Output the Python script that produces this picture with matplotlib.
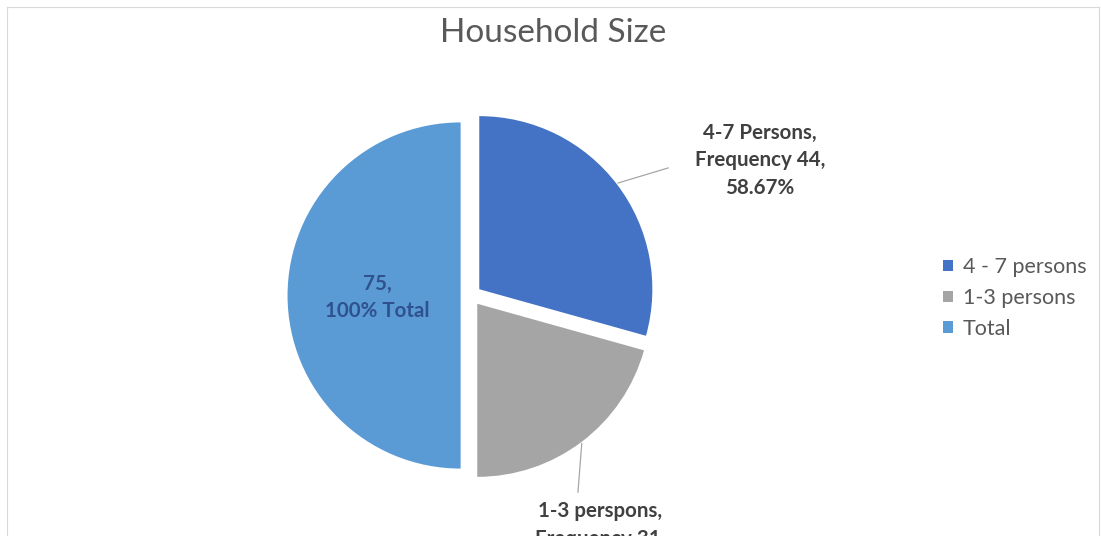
import matplotlib.pyplot as plt
from matplotlib.lines import Line2D
from matplotlib.patches import Patch

# household size breakdown
groups = ["4 - 7 persons", "1-3 persons", "Total"]
label_names = ["4-7 Persons", "1-3 perspons"]
freq = [44, 31, 75]
colors = ["#4472C4", "#A5A5A5", "#5B9BD5"]

plt.rcParams['font.family'] = ['Lato', 'DejaVu Sans']

fig = plt.figure(figsize=(11.01, 5.36), dpi=100)

# light frame round the chart area
W, H = 1101, 536
fig.add_artist(Line2D([7 / W, 1099 / W], [1 - 7 / H, 1 - 7 / H], color="#D9D9D9", lw=0.8))
fig.add_artist(Line2D([7 / W, 7 / W], [0, 1 - 7 / H], color="#D9D9D9", lw=0.8))
fig.add_artist(Line2D([1099 / W, 1099 / W], [0, 1 - 7 / H], color="#D9D9D9", lw=0.8))

ax = fig.add_axes([(471 - 225) / W, (536 - 295.5 - 225) / H, 450 / W, 450 / H])
ax.pie(freq, colors=colors, startangle=90, counterclock=False,
       explode=[0.06, 0.06, 0.06], radius=1)
ax.set_xlim(-1.3, 1.3)
ax.set_ylim(-1.3, 1.3)
ax.set_aspect('equal')
ax.axis('off')

total = freq[2]
lbl = dict(ha='center', fontsize=14.8, fontweight='bold', color='#404040',
           linespacing=1.45)

# 4-7 persons label with leader line
ax.plot([0.850, 1.139], [0.650, 0.737], color='#A6A6A6', lw=0.9)
ax.text(1.67, 0.78, "%s,\nFrequency %d,\n%.2f%%" % (label_names[0], freq[0], freq[0] / total * 100),
        va='center', **lbl)

# 1-3 persons label (runs off the bottom)
ax.plot([0.640, 0.618], [-0.855, -1.136], color='#A6A6A6', lw=0.9)
ax.text(0.745, -1.19, "%s,\nFrequency %d,\n%.2f%%" % (label_names[1], freq[1], freq[1] / total * 100),
        va='top', **lbl)

# total label inside its slice
ax.text(-0.543, -0.01, "%d,\n%d%% Total" % (freq[2], freq[2] / total * 100),
        ha='center', va='center', fontsize=14.8, fontweight='bold',
        color='#2F528F', linespacing=1.45)

fig.text(0.502, 1 - 33 / H, "Household Size", ha='center', va='center',
         fontsize=24, color='#595959')

handles = [Patch(facecolor=c, edgecolor='none') for c in colors]
fig.legend(handles, groups, loc='center left', bbox_to_anchor=(924 / W, 1 - 298 / H),
           frameon=False, fontsize=15.5, labelcolor='#595959',
           handlelength=0.45, handleheight=0.45, handletextpad=0.45,
           labelspacing=0.5)

fig.savefig("out.png", dpi=100, facecolor='white')
